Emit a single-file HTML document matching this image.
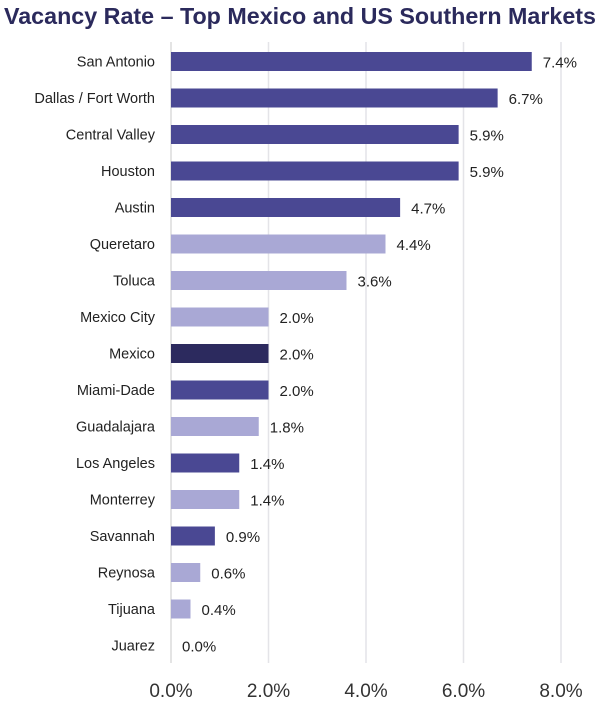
<!DOCTYPE html>
<html><head><meta charset="utf-8"><style>
html,body{margin:0;padding:0;background:#fff;}
svg{display:block;font-family:"Liberation Sans",sans-serif;}
</style></head><body>
<svg id="chart" width="602" height="706">
<text x="4" y="24" font-size="23" font-weight="bold" fill="#2b2a5c" textLength="592" lengthAdjust="spacingAndGlyphs">Vacancy Rate – Top Mexico and US Southern Markets</text>
<g id="grid"></g><g id="bars"></g><g id="labels"></g><g id="xaxis"></g>
</svg>
<script>
const categories=["San Antonio","Dallas / Fort Worth","Central Valley","Houston","Austin","Queretaro","Toluca","Mexico City","Mexico","Miami-Dade","Guadalajara","Los Angeles","Monterrey","Savannah","Reynosa","Tijuana","Juarez"];
const values=[7.4,6.7,5.9,5.9,4.7,4.4,3.6,2.0,2.0,2.0,1.8,1.4,1.4,0.9,0.6,0.4,0.0];
const groups=["us","us","us","us","us","mx","mx","mx","total","us","mx","us","mx","us","mx","mx","mx"];
const ticks=[0,2,4,6,8];
const tickLabels=["0.0%","2.0%","4.0%","6.0%","8.0%"];
const colors={us:"#4a4893",mx:"#a9a8d5",total:"#2c2a5e"};
const NS="http://www.w3.org/2000/svg";
const x=v=>171+v*48.75;
const y=i=>61.5+i*36.5;
function mk(tag,attrs,parent,txt){const e=document.createElementNS(NS,tag);for(const k in attrs)e.setAttribute(k,attrs[k]);if(txt!==undefined)e.textContent=txt;document.getElementById(parent).appendChild(e);return e;}
ticks.forEach((t,i)=>{
  const g=mk('line',{x1:x(t),x2:x(t),y1:42,y2:663,stroke:i===0?"#dcdcdc":"#e4e4e8","stroke-width":1.5},'grid');
  
  
  const l=mk('text',{x:x(t),y:697,"font-size":19,"text-anchor":"middle",fill:"#333"},'xaxis',tickLabels[i]);
  
  
});
categories.forEach((c,i)=>{
  const b=mk('rect',{x:x(0),y:y(i)-9.5,width:Math.max(0,x(values[i])-x(0)),height:19,fill:colors[groups[i]]},'bars');
  
  
  const cl=mk('text',{x:155,y:y(i)+5,"font-size":14.5,"text-anchor":"end",fill:"#222"},'labels',c);
  
  
  const vl=mk('text',{x:x(values[i])+11,y:y(i)+6,"font-size":15,fill:"#222"},'labels',values[i].toFixed(1)+"%");
  
  
});
</script>
</body></html>
